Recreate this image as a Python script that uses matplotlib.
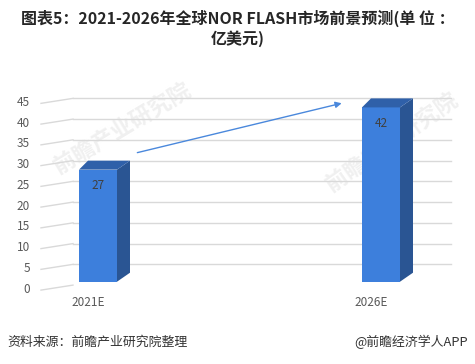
import matplotlib
matplotlib.use("Agg")
import matplotlib.pyplot as plt
from matplotlib.patches import Polygon
from matplotlib.transforms import ScaledTranslation

plt.rcParams['font.family'] = ['Noto Sans CJK SC', 'DejaVu Sans']

# ---- data ----
categories = ["2021E", "2026E"]
values = [27, 42]
yticks = [0, 5, 10, 15, 20, 25, 30, 35, 40, 45]
title_line1 = "图表5：2021-2026年全球NOR FLASH市场前景预测(单 位 ："
title_line2 = "亿美元)"
source_text = "资料来源：前瞻产业研究院整理"
brand_text = "@前瞻经济学人APP"
watermark = "前瞻产业研究院"

# ---- layout ----
W, H = 475, 364
DPI = 100
fig = plt.figure(figsize=(W / DPI, H / DPI), dpi=DPI)

ax_left_px, ax_right_px = 73, 451
y0_px = 281.7          # front-face baseline (from top)
ppy = 4.15             # px per value unit
ppx = 283.0            # px per category unit
ymax = 45
ax_h = ppy * ymax
ax = fig.add_axes([ax_left_px / W, (H - y0_px) / H, (ax_right_px - ax_left_px) / W, ax_h / H])
x0 = -(98 - ax_left_px) / ppx
x1 = (ax_right_px - 98) / ppx
ax.set_xlim(x0, x1)
ax.set_ylim(0, ymax)
ax.patch.set_alpha(0)
for s in ax.spines.values():
    s.set_visible(False)

grid_c = "#d9d9d9"
wall_shift = 3.4 / ppy   # back wall sits slightly lower than bar fronts
diag_dx = 32 / ppx
diag_dy = 5 / ppy
for g in yticks:
    yb = g - wall_shift
    if g > 0:
        ax.plot([x0, x1], [yb, yb], color=grid_c, lw=1.0, zorder=1, clip_on=False)
    ax.plot([x0 - diag_dx, x0], [yb - diag_dy, yb], color=grid_c, lw=1.0, zorder=1, clip_on=False)

# ---- bars (3D look) ----
front_c = "#3d7fdc"
side_c = "#2a5593"
top_c = "#2f60a9"
xs = list(range(len(categories)))
bw = 38 / ppx
ax.bar(xs, values, width=bw, color=front_c, zorder=3)
dxr = 13 / ppx
dxl = 9 / ppx
dy = 9 / ppy
for x, v in zip(xs, values):
    xl, xr = x - bw / 2, x + bw / 2
    ax.add_patch(Polygon([(xr, 0), (xr, v), (xr + dxr, v + dy), (xr + dxr, dy)],
                         closed=True, color=side_c, zorder=3, lw=0))
    ax.add_patch(Polygon([(xl, v), (xl + dxl, v + dy), (xr + dxr, v + dy), (xr, v)],
                         closed=True, color=top_c, zorder=3, lw=0))
    ax.annotate(f"{v}", xy=(x, v), xytext=(0, -16), textcoords="offset pixels",
                ha="center", va="center", fontsize=8.5, color="#404040", zorder=5)

# ---- trend arrow ----
arrow_start = (0.139, 31.1)
arrow_end = (0.861, 43.0)
ax.annotate("", xy=arrow_end, xytext=arrow_start,
            arrowprops=dict(arrowstyle="-|>", color="#4a88dc", lw=1.0,
                            mutation_scale=9, shrinkA=0, shrinkB=0), zorder=4)

# ---- ticks ----
ax.set_yticks(yticks)
ax.set_yticklabels([str(t) for t in yticks])
ax.tick_params(axis="y", length=0, pad=43 * 72 / DPI, labelsize=8.5, labelcolor="#595959")
for lab in ax.get_yticklabels():
    lab.set_transform(lab.get_transform() + ScaledTranslation(0, -6 / DPI, fig.dpi_scale_trans))
ax.set_xticks(xs)
ax.set_xticklabels(categories)
ax.tick_params(axis="x", length=0, pad=14 * 72 / DPI, labelsize=8.5, labelcolor="#595959")
for lab in ax.get_xticklabels():
    lab.set_transform(lab.get_transform() + ScaledTranslation(-10 / DPI, 0, fig.dpi_scale_trans))

# ---- watermarks ----
wm_c = "#f0f0f0"
for cx, cy, ang in [(122, 128, 31), (392, 142, 35)]:
    fig.text(cx / W, 1 - cy / H, watermark, rotation=ang, ha="center", va="center",
             fontsize=16, fontweight="bold", color=wm_c, zorder=-2, rotation_mode="anchor")

# ---- title / footer ----
fig.text(0.5, 1 - 18 / H, title_line1, ha="center", va="center", fontsize=11.5,
         fontweight="bold", color="#262626")
fig.text(0.5, 1 - 39 / H, title_line2, ha="center", va="center", fontsize=11.5,
         fontweight="bold", color="#262626")
fig.text(7 / W, 1 - 342 / H, source_text, ha="left", va="center", fontsize=9.3, color="#333333")
fig.text(468 / W, 1 - 342 / H, brand_text, ha="right", va="center", fontsize=9.3, color="#333333")

fig.savefig("out.png", dpi=DPI)
